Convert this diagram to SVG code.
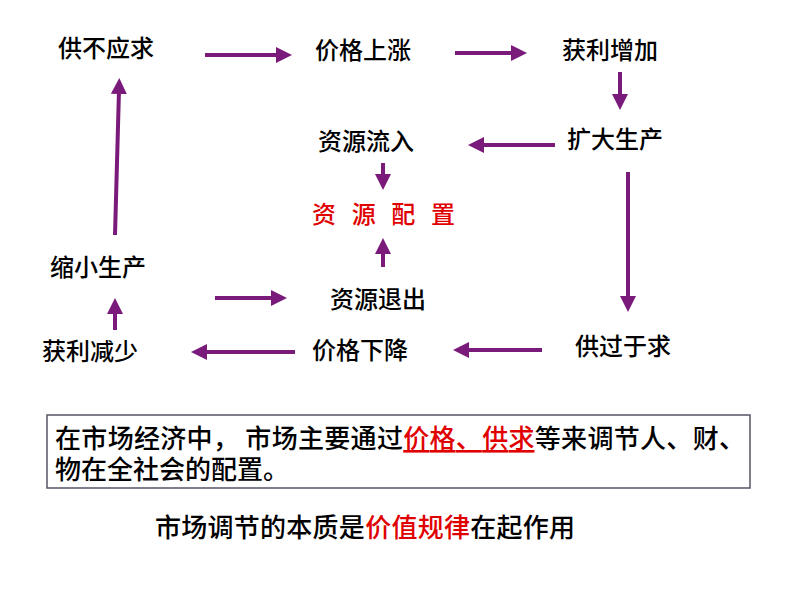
<svg xmlns="http://www.w3.org/2000/svg" width="794" height="596" viewBox="0 0 794 596">
<style>
text{font-family:"Noto Sans CJK SC","Liberation Sans",sans-serif;font-size:24px;fill:#000;font-weight:500}
.r{fill:#e00000}
.b{font-size:26px}
line{stroke:#7a1a7a;stroke-width:4;marker-end:url(#a)}
</style>
<defs><marker id="a" markerWidth="4" markerHeight="4" refX="1" refY="2" orient="auto"><path d="M0,0L4,2L0,4z" fill="#7a1a7a"/></marker></defs>
<rect width="794" height="596" fill="#fff"/>
<g id="n1"><text x="58" y="57">供不应求</text></g>
<g id="n2"><text x="315" y="59">价格上涨</text></g>
<g id="n3"><text x="562" y="59">获利增加</text></g>
<g id="n4"><text x="567" y="148">扩大生产</text></g>
<g id="n5"><text x="318" y="150">资源流入</text></g>
<g id="n6"><text class="r" x="312" y="223" textLength="143">资源配置</text></g>
<g id="n7"><text x="330" y="308">资源退出</text></g>
<g id="n8"><text x="50" y="276">缩小生产</text></g>
<g id="n9"><text x="42" y="360">获利减少</text></g>
<g id="n10"><text x="312" y="359">价格下降</text></g>
<g id="n11"><text x="575" y="355">供过于求</text></g>
<g id="edges">
<line x1="205" y1="55" x2="280" y2="55"/>
<line x1="455" y1="53" x2="515" y2="53"/>
<line x1="620" y1="72" x2="620" y2="98"/>
<line x1="555" y1="145" x2="480" y2="145"/>
<line x1="383" y1="163" x2="383" y2="178"/>
<line x1="383" y1="267" x2="383" y2="250"/>
<line x1="215" y1="298" x2="275" y2="298"/>
<line x1="115" y1="235" x2="119" y2="90"/>
<line x1="115" y1="330" x2="115" y2="310"/>
<line x1="295" y1="352" x2="203" y2="352"/>
<line x1="542" y1="350" x2="465" y2="350"/>
<line x1="628" y1="172" x2="628" y2="300"/>
</g>
<g id="note">
<rect x="47" y="415" width="703" height="73" fill="none" stroke="#556" stroke-width="1.5"/>
<text class="b" x="55" y="448" textLength="690">在市场经济中，  市场主要通过<tspan class="r" text-decoration="underline">价格、供求</tspan>等来调节人、财、</text>
<text class="b" x="55" y="479">物在全社会的配置。</text>
</g>
<g id="summary"><text class="b" x="155" y="537" textLength="420">市场调节的本质是<tspan class="r">价值规律</tspan>在起作用</text></g>
</svg>
